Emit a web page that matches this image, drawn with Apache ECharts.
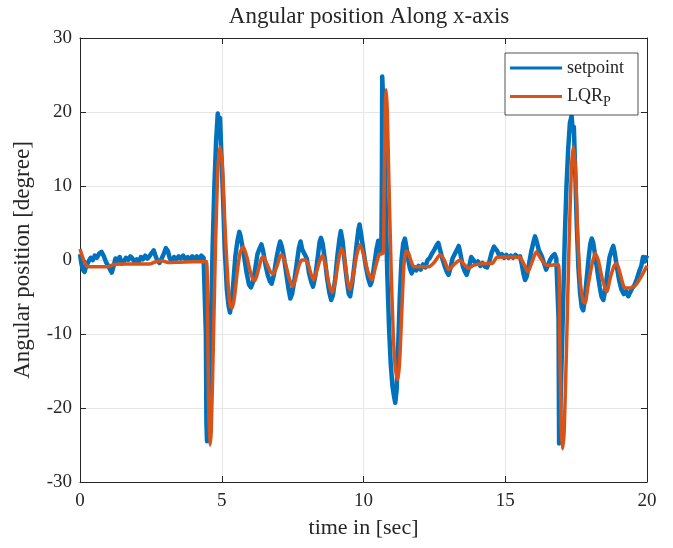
<!DOCTYPE html>
<html>
<head>
<meta charset="utf-8">
<script src="https://cdn.jsdelivr.net/npm/echarts@6/dist/echarts.min.js"></script>
<style>html,body{margin:0;padding:0;background:#fff}#c{width:673px;height:548px}</style>
</head>
<body>
<div id="c"></div>
<script>
const titleText = 'Angular position Along x-axis';
const xName = 'time in [sec]';
const yName = 'Angular position [degree]';
const seriesNames = ['setpoint', 'LQR_P'];

const setpointT = [0.00,0.05,0.10,0.16,0.22,0.30,0.38,0.45,0.52,0.60,0.68,0.76,0.84,0.92,1.00,1.06,1.12,1.18,1.25,1.32,1.40,1.48,1.55,1.62,1.70,1.78,1.85,1.92,2.00,2.08,2.15,2.22,2.30,2.38,2.45,2.52,2.60,2.66,2.72,2.80,2.88,2.95,3.03,3.10,3.16,3.24,3.32,3.40,3.48,3.56,3.64,3.72,3.80,3.88,3.96,4.04,4.12,4.20,4.28,4.36,4.42,4.44,4.46,4.48,4.51,4.56,4.62,4.68,4.74,4.80,4.86,4.90,4.94,4.98,5.04,5.10,5.18,5.24,5.29,5.34,5.40,5.48,5.55,5.62,5.66,5.72,5.80,5.88,5.96,6.03,6.10,6.18,6.26,6.34,6.40,6.46,6.54,6.62,6.70,6.76,6.84,6.92,7.00,7.06,7.12,7.20,7.28,7.36,7.42,7.48,7.56,7.64,7.72,7.78,7.84,7.92,8.00,8.08,8.16,8.22,8.30,8.38,8.45,8.50,8.56,8.64,8.72,8.80,8.86,8.92,9.00,9.08,9.15,9.20,9.26,9.34,9.42,9.48,9.53,9.60,9.68,9.76,9.82,9.86,9.92,10.00,10.08,10.16,10.24,10.30,10.38,10.46,10.52,10.58,10.63,10.65,10.66,10.69,10.73,10.78,10.84,10.90,10.96,11.02,11.08,11.12,11.17,11.22,11.28,11.34,11.40,11.46,11.52,11.58,11.64,11.70,11.78,11.86,11.94,12.02,12.10,12.18,12.26,12.34,12.42,12.50,12.58,12.64,12.70,12.78,12.86,12.94,13.00,13.06,13.14,13.22,13.30,13.36,13.42,13.50,13.58,13.64,13.72,13.80,13.88,13.96,14.04,14.12,14.20,14.28,14.36,14.44,14.52,14.60,14.66,14.72,14.80,14.88,14.96,15.04,15.12,15.20,15.28,15.36,15.44,15.52,15.58,15.64,15.70,15.76,15.84,15.92,16.00,16.05,16.10,16.18,16.24,16.30,16.38,16.44,16.50,16.58,16.66,16.74,16.80,16.86,16.88,16.90,16.93,16.98,17.04,17.10,17.16,17.22,17.28,17.34,17.38,17.42,17.46,17.52,17.58,17.64,17.70,17.75,17.80,17.86,17.94,18.00,18.05,18.10,18.18,18.26,18.34,18.40,18.46,18.52,18.60,18.68,18.76,18.81,18.86,18.94,19.02,19.10,19.18,19.26,19.34,19.40,19.48,19.56,19.64,19.72,19.80,19.86,19.92,20.00];
const setpointV = [0.8,-0.5,-1.3,-1.6,-0.8,-0.2,0.3,0.0,0.6,0.3,0.9,1.1,0.5,-0.3,-0.8,-1.3,-1.7,-0.9,0.2,-0.1,0.4,-0.5,-0.2,0.3,0.0,0.5,0.2,-0.3,0.1,-0.2,0.4,0.1,0.6,0.2,0.5,0.9,1.3,0.6,0.0,-0.4,0.2,0.8,1.6,1.2,0.3,-0.2,0.4,0.1,0.5,0.2,0.6,0.1,0.4,0.0,0.5,0.2,0.5,0.1,0.6,0.3,0.4,-10,-22,-24.5,-23,-16,-8,2,10,16,19.8,18.5,19.2,15,9,2,-4,-6.2,-7.1,-6.0,-3.5,0.5,2.5,3.8,3.3,2.0,0.2,-1.8,-3.3,-3.7,-3.0,-1.2,0.8,1.6,2.1,1.2,-0.6,-2.0,-2.9,-3.2,-2.0,0.0,1.6,2.5,1.8,0.2,-2.0,-4.0,-5.2,-4.6,-2.8,-0.6,1.6,2.5,1.4,0.8,0.2,-1.8,-3.0,-3.6,-2.2,0.2,2.4,3.0,2.2,0.0,-2.6,-4.5,-5.4,-4.8,-2.6,0.6,2.8,3.9,2.6,-0.4,-3.0,-4.6,-4.9,-3.2,-0.6,2.2,4.1,4.8,3.4,1.2,-0.8,-2.4,-3.4,-2.8,-0.6,1.5,2.6,1.2,0.9,12,24.8,22,18,8,-2,-9,-14,-17,-18.5,-19.3,-17.5,-12,-5,0,2.2,2.9,1.6,0.0,-1.2,-1.8,-1.0,-1.4,-0.8,-1.3,-0.6,-1.0,0.0,0.3,0.9,1.4,2.0,2.3,1.4,0.2,-0.8,-1.6,-2.0,-1.2,0.2,0.8,1.4,1.9,0.8,-0.8,-1.6,-2.0,-1.0,0.4,0.0,-0.5,-0.2,-0.8,-0.4,-0.9,-1.0,-0.2,1.0,1.8,2.0,1.2,0.5,0.8,0.3,0.7,0.3,0.6,0.3,0.7,0.4,0.5,-0.5,-1.8,-2.7,-2.2,-0.5,1.2,2.5,3.2,2.6,1.4,1.2,0.4,-0.6,-1.3,-0.8,0.0,0.5,0.8,0.2,0.3,-8,-24.8,-22,-15,-6,3,10,15,18.5,19.5,17.5,18.0,13,5,-1,-4.5,-6.4,-6.8,-5.5,-3,0.2,2.2,2.9,2.4,0.4,-1.8,-3.8,-5.0,-5.4,-4.2,-1.8,0.4,1.4,1.9,1.0,-1.0,-2.8,-4.0,-4.6,-4.2,-4.9,-5.0,-3.8,-3.4,-2.6,-1.6,-0.8,0.4,-0.2,0.6];

const lqrT = [0,0.1,0.2,0.3,0.6,1.0,1.2,1.5,2.0,2.5,2.7,2.9,3.1,3.5,4.0,4.46,4.50,4.54,4.58,4.63,4.70,4.78,4.86,4.94,5.02,5.12,5.22,5.30,5.37,5.45,5.55,5.65,5.76,5.88,6.0,6.1,6.17,6.3,6.4,6.47,6.6,6.72,6.82,6.95,7.05,7.12,7.25,7.38,7.5,7.6,7.72,7.82,7.95,8.05,8.15,8.25,8.35,8.45,8.55,8.65,8.78,8.9,9.0,9.1,9.22,9.32,9.42,9.52,9.62,9.75,9.88,10.0,10.15,10.3,10.42,10.55,10.65,10.70,10.73,10.77,10.80,10.84,10.9,10.98,11.05,11.12,11.2,11.27,11.34,11.42,11.5,11.58,11.7,11.8,12.0,12.3,12.5,12.7,12.85,13.0,13.2,13.4,13.55,13.7,13.9,14.2,14.55,14.7,15.0,15.3,15.52,15.65,15.8,15.95,16.1,16.25,16.45,16.6,16.88,16.92,16.97,17.02,17.08,17.16,17.25,17.33,17.4,17.48,17.56,17.66,17.75,17.82,17.92,18.05,18.17,18.28,18.42,18.58,18.72,18.85,18.93,19.05,19.2,19.4,19.6,19.8,20.0];
const lqrV = [1.5,0.3,-0.6,-0.9,-0.9,-0.9,-0.6,-0.55,-0.55,-0.5,-0.2,-0.1,-0.35,-0.3,-0.25,-0.2,-8,-20,-25,-23,-12,2,12,15.3,13,4,-3,-6.2,-6.5,-5,-1.5,1.0,1.8,0.5,-1.5,-2.6,-2.8,-1.2,0.2,0.45,-0.6,-1.6,-1.9,-0.8,0.4,0.7,-0.5,-2.5,-3.6,-2.6,-0.8,0,0,-0.6,-1.9,-2.7,-1.5,-0.2,0.6,-0.5,-3.2,-4.4,-3.0,-0.5,1.6,0.5,-2.5,-4.0,-2.5,0.5,2.1,0.8,-1.5,-2.7,-1.0,0.7,0.9,0.9,10,21,23,20,10,-2,-10,-14.5,-16.2,-14,-8,-1,1.2,1.0,-0.4,-0.9,-0.9,-0.9,-0.3,0.7,0,-1.3,-0.6,0,-0.6,-1.1,-0.7,-0.5,-0.45,0.35,0.4,0.4,0.35,-0.5,-1.6,-0.2,1.1,0.2,-0.7,-0.7,-0.6,-10,-22,-25.5,-23,-12,2,12,15.3,12,3,-3.5,-5.6,-5.8,-3.5,-0.8,0.9,0,-2.5,-4.3,-2.2,-0.7,-0.45,-1.8,-3.7,-3.8,-3.4,-2.2,-0.8];

const xTicks = {min: 0, max: 20, interval: 5};
const yTicks = {min: -30, max: 30, interval: 10};

const serif = "'Liberation Serif', 'Times New Roman', serif";
const ink = '#262626';
const gridCol = '#e6e6e6';

const chart = echarts.init(document.getElementById('c'), null, {renderer: 'canvas'});

function baseAxis(extra) {
  return Object.assign({
    type: 'value',
    axisLine: {show: true, onZero: false, lineStyle: {color: ink, width: 1}},
    axisTick: {show: true, inside: true, length: 6, lineStyle: {color: ink}},
    axisLabel: {show: false},
    splitLine: {show: false}
  }, extra);
}

chart.setOption({
  animation: false,
  backgroundColor: '#fff',
  title: {
    text: titleText,
    left: 364, top: 0, textAlign: 'center',
    textStyle: {fontFamily: serif, fontSize: 23, fontWeight: 'normal', color: ink}
  },
  grid: {left: 80, right: 26, top: 38, bottom: 66, containLabel: false},
  legend: {
    orient: 'vertical',
    left: 505, top: 53,
    backgroundColor: '#fff',
    borderColor: ink, borderWidth: 0.8,
    padding: [6, 14, 6, 5],
    itemWidth: 52, itemHeight: 3, itemGap: 7,
    icon: 'rect',
    data: seriesNames,
    formatter: function (n) { return n === 'LQR_P' ? '{m|LQR}{s|P}' : '{m|' + n + '}'; },
    textStyle: {
      fontFamily: serif, color: ink, fontSize: 18,
      rich: {
        m: {fontFamily: serif, fontSize: 18, color: ink, lineHeight: 20},
        s: {fontFamily: serif, fontSize: 14, color: ink, lineHeight: 20, padding: [11, 0, 0, 0]}
      }
    }
  },
  xAxis: [
    baseAxis(Object.assign({}, xTicks, {
      position: 'bottom',
      name: xName, nameLocation: 'middle', nameGap: 35,
      nameTextStyle: {fontFamily: serif, fontSize: 22, color: ink},
      axisLabel: {show: true, margin: 10, fontFamily: serif, fontSize: 19, color: ink},
      splitLine: {show: true, lineStyle: {color: gridCol, width: 1}}
    })),
    baseAxis(Object.assign({}, xTicks, {position: 'top'}))
  ],
  yAxis: [
    baseAxis(Object.assign({}, yTicks, {
      position: 'left',
      name: yName, nameLocation: 'middle', nameGap: 46,
      nameTextStyle: {fontFamily: serif, fontSize: 23, color: ink},
      axisLabel: {show: true, margin: 8, fontFamily: serif, fontSize: 19, color: ink},
      splitLine: {show: true, lineStyle: {color: gridCol, width: 1}}
    })),
    baseAxis(Object.assign({}, yTicks, {position: 'right'}))
  ],
  series: [
    {
      name: seriesNames[0], type: 'line', xAxisIndex: 0, yAxisIndex: 0,
      data: setpointT.map((t, i) => [t, setpointV[i]]),
      showSymbol: false, symbol: 'none',
      lineStyle: {color: '#0072BD', width: 4.5, join: 'round'},
      itemStyle: {color: '#0072BD'}
    },
    {
      name: seriesNames[1], type: 'line', xAxisIndex: 0, yAxisIndex: 0,
      data: lqrT.map((t, i) => [t, lqrV[i]]),
      showSymbol: false, symbol: 'none', smooth: 0.2,
      lineStyle: {color: '#D95319', width: 3.5, join: 'round'},
      itemStyle: {color: '#D95319'}
    }
  ]
});
</script>
</body>
</html>
